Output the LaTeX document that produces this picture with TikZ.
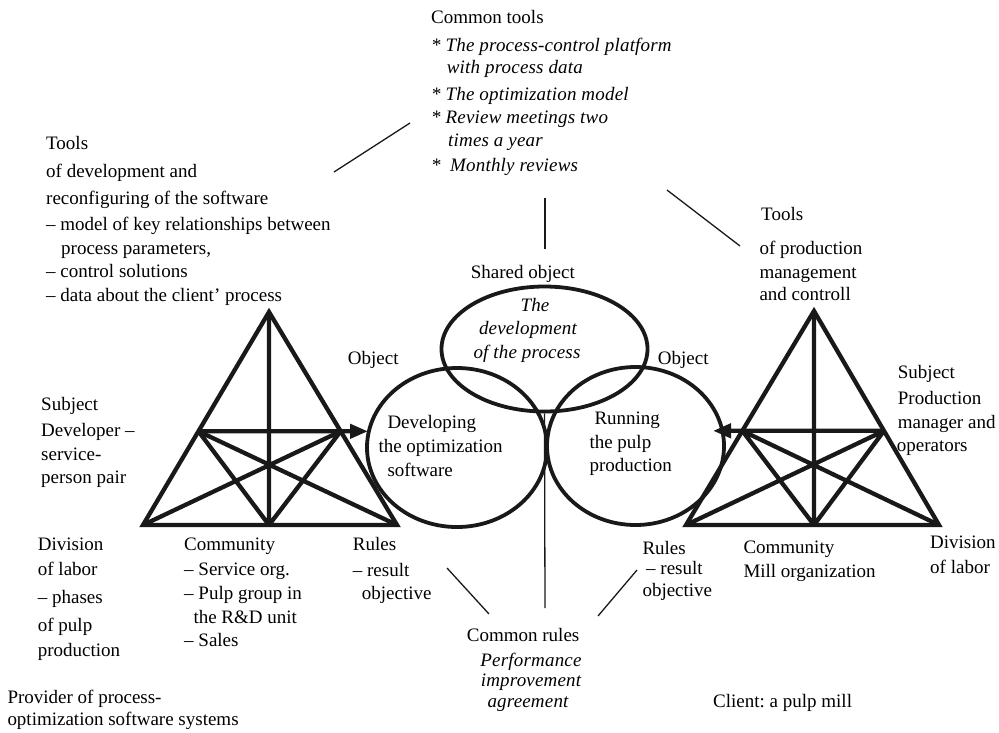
\documentclass[tikz,border=0pt]{standalone}
\usepackage{fontspec}
\setmainfont{Liberation Serif}[ItalicFeatures={LetterSpace=1}]
\usetikzlibrary{arrows.meta,shapes.geometric,calc}
\begin{document}
\frenchspacing
\begin{tikzpicture}[x=1pt,y=-1pt,
  txt/.style={inner sep=0pt, anchor=base west, font=\fontsize{19}{23}\selectfont},
  itx/.style={txt, font=\fontsize{19}{23}\selectfont\itshape},
  itc/.style={itx, anchor=base},
  tri/.style={line width=4.3pt, draw=black!90},
  conn/.style={line width=1.3pt, draw=black!90},
  ell/.style={draw=black!90, ellipse, line width=3.8pt, inner sep=0pt},
  arrowL/.style={-{Triangle[length=18pt,width=14pt]}}
]
\useasboundingbox (0,0) rectangle (999,732);

% ellipses (objects)
\node[ell, minimum width=180pt, minimum height=159pt] (objL) at (457,447.5) {};
\node[ell, minimum width=177pt, minimum height=158pt] (objR) at (635.5,446) {};
\node[ell, minimum width=206pt, minimum height=125pt] (objS) at (544.5,349) {};

% left triangle
\coordinate (A1) at (269,312);
\coordinate (B1) at (143,525);
\coordinate (C1) at (397,525);
\coordinate (M1) at (269,525);
\coordinate (L1) at ($(A1)!0.56!(B1)$);
\coordinate (R1) at ($(A1)!0.56!(C1)$);
\coordinate (T1) at (368,431.3);
\draw[tri] (A1) -- (B1) -- (C1) -- cycle;
\draw[tri] (A1) -- (M1) (L1) -- (M1) (L1) -- (C1) (R1) -- (M1) (R1) -- (B1);
\draw[tri, arrowL] (L1) -- (T1);

% right triangle
\coordinate (A2) at (814,311);
\coordinate (B2) at (686,525);
\coordinate (C2) at (939,525);
\coordinate (M2) at (814,525);
\coordinate (L2) at ($(A2)!0.56!(B2)$);
\coordinate (R2) at ($(A2)!0.56!(C2)$);
\coordinate (T2) at (713,430.8);
\draw[tri] (A2) -- (B2) -- (C2) -- cycle;
\draw[tri] (A2) -- (M2) (L2) -- (M2) (L2) -- (C2) (R2) -- (M2) (R2) -- (B2);
\draw[tri, arrowL] (R2) -- (T2);

% thin connectors
\coordinate (c1a) at (334,172); \coordinate (c1b) at (410,123);
\coordinate (c2a) at (667,190); \coordinate (c2b) at (740,246);
\coordinate (c3a) at (545,198); \coordinate (c3b) at (545,249);
\coordinate (c4b) at (545,608);
\coordinate (c5a) at (447,568); \coordinate (c5b) at (489,614);
\coordinate (c6a) at (637,570); \coordinate (c6b) at (598,616);
\draw[conn] (c1a) -- (c1b);
\draw[conn] (c2a) -- (c2b);
\draw[conn] (c3a) -- (c3b);
\draw[conn] (objS.south) -- (c4b);
\draw[conn] (c5a) -- (c5b);
\draw[conn] (c6a) -- (c6b);

% common tools
\node[txt] (ct0) at (431,23.3) {Common tools};
\node[itx] (ct1) at (431,51.7) {* The process-control platform};
\node[itx] (ct2) at (446.7,73.3) {with process data};
\node[itx] (ct3) at (431,100) {* The optimization model};
\node[itx] (ct4) at (431,123.3) {* Review meetings two};
\node[itx] (ct5) at (448,146.7) {times a year};
\node[itx] (ct6) at (431,171.7) {*};
\node[itx] (ct7) at (450,171.7) {Monthly reviews};

% left tools
\node[txt] (lt1) at (46,149.3) {Tools};
\node[txt] (lt2) at (46,177.3) {of development and};
\node[txt] (lt3) at (46,204) {reconfiguring of the software};
\node[txt] (lt4) at (46,230) {– model of key relationships between};
\node[txt] (lt5) at (61,254) {process parameters,};
\node[txt] (lt6) at (46,277.7) {– control solutions};
\node[txt] (lt7) at (46,301.7) {– data about the client’ process};

% right tools
\node[txt] (rt1) at (761,220.7) {Tools};
\node[txt] (rt2) at (759.3,254) {of production};
\node[txt] (rt3) at (759.3,278.3) {management};
\node[txt] (rt4) at (759.3,300.7) {and controll};

% shared object
\node[txt] (so) at (470.7,278) {Shared object};
\node[itc] (so1) at (535,311) {The};
\node[itc] (so2) at (528,334) {development};
\node[itc] (so3) at (527,358.3) {of the process};

\node[txt] (obL) at (347.7,364) {Object};
\node[txt] (obR) at (657.7,364) {Object};

\node[txt] (dv1) at (387.3,428.3) {Developing};
\node[txt] (dv2) at (378.3,452.3) {the optimization};
\node[txt] (dv3) at (387.3,476) {software};

\node[txt] (rn1) at (594.3,424.3) {Running};
\node[txt] (rn2) at (589.3,448.3) {the pulp};
\node[txt] (rn3) at (589.3,471.7) {production};

% left subject
\node[txt] (ls1) at (41,410) {Subject};
\node[txt] (ls2) at (41,436) {Developer –};
\node[txt] (ls3) at (41,460) {service-};
\node[txt] (ls4) at (41,483.3) {person pair};

% left division
\node[txt] (ld1) at (37.7,550) {Division};
\node[txt] (ld2) at (37.7,575.7) {of labor};
\node[txt] (ld3) at (37.7,603) {– phases};
\node[txt] (ld4) at (37.7,631.7) {of pulp};
\node[txt] (ld5) at (37.7,656.7) {production};

% left community
\node[txt] (lc1) at (184,550) {Community};
\node[txt] (lc2) at (184,575) {– Service org.};
\node[txt] (lc3) at (184,599.3) {– Pulp group in};
\node[txt] (lc4) at (193.3,623.3) {the R\&D unit};
\node[txt] (lc5) at (184,646.7) {– Sales};

% left rules
\node[txt] (lr1) at (352.7,550) {Rules};
\node[txt] (lr2) at (352.7,576) {– result};
\node[txt] (lr3) at (361.7,599.3) {objective};

\node[txt] (pv1) at (7.3,703) {Provider of process-};
\node[txt] (pv2) at (7.3,725) {optimization software systems};

% right subject
\node[txt] (rs1) at (897.7,378.3) {Subject};
\node[txt] (rs2) at (897.7,404) {Production};
\node[txt] (rs3) at (897.7,428.3) {manager and};
\node[txt] (rs4) at (896.7,451.7) {operators};

% right rules
\node[txt] (rr1) at (642.3,554) {Rules};
\node[txt] (rr2) at (646,574) {– result};
\node[txt] (rr3) at (642.3,596) {objective};

% right community
\node[txt] (rc1) at (743.3,553) {Community};
\node[txt] (rc2) at (743.3,577) {Mill organization};

% right division
\node[txt] (rd1) at (930,548.5) {Division};
\node[txt] (rd2) at (930,573.3) {of labor};

% common rules
\node[txt] (cr0) at (466.7,641) {Common rules};
\node[itc] (cr1) at (531,666) {Performance};
\node[itc] (cr2) at (531,686) {improvement};
\node[itc] (cr3) at (528,707) {agreement};

\node[txt] (cl) at (713,707) {Client: a pulp mill};
\end{tikzpicture}
\end{document}
